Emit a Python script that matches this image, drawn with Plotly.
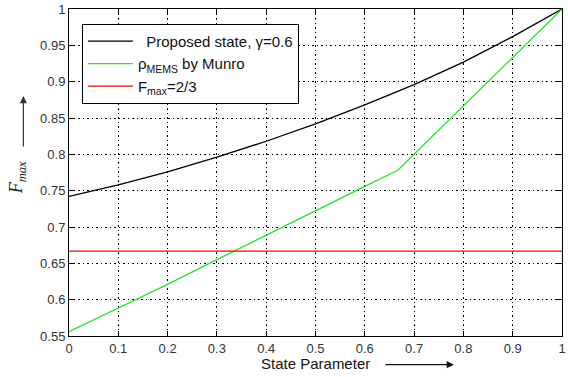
import plotly.graph_objects as go

# State parameter sampled along the x axis
state = [0.0, 0.1, 0.2, 0.3, 0.4, 0.5, 0.6, 0.7, 0.8, 0.9, 1.0]
# Maximal fidelity of the proposed state (gamma = 0.6)
proposed = [0.742, 0.758, 0.776, 0.796, 0.818, 0.842, 0.868, 0.896, 0.927, 0.962, 1.0]

# MEMS fidelity (Munro) - kink at 2/3
munro_x = [0.0, 0.1, 0.2, 0.3, 0.4, 0.5, 0.6, 0.667, 0.7, 0.8, 0.9, 1.0]
munro = [0.556, 0.588, 0.621, 0.655, 0.689, 0.722, 0.756, 0.778, 0.800, 0.867, 0.933, 1.0]

# Classical limit
limit_x = [0.0, 1.0]
limit = [2 / 3, 2 / 3]

x_ticks = [0, 0.1, 0.2, 0.3, 0.4, 0.5, 0.6, 0.7, 0.8, 0.9, 1]
x_labels = ["0", "0.1", "0.2", "0.3", "0.4", "0.5", "0.6", "0.7", "0.8", "0.9", "1"]
y_ticks = [0.55, 0.6, 0.65, 0.7, 0.75, 0.8, 0.85, 0.9, 0.95, 1]
y_labels = ["0.55", "0.6", "0.65", "0.7", "0.75", "0.8", "0.85", "0.9", "0.95", "1"]

W, H = 568, 377
L, R, T, B = 69, 2, 5, 41
pw, ph = W - L - R, H - T - B


def px(x):
    return (x - L) / pw


def py(y):
    return (H - B - y) / ph


fig = go.Figure()
fig.add_trace(go.Scatter(x=state, y=proposed, mode="lines",
                         line=dict(color="#000000", width=1.3),
                         name="\u00a0\u00a0Proposed state, \u03b3=0.6"))
fig.add_trace(go.Scatter(x=munro_x, y=munro, mode="lines",
                         line=dict(color="#22e622", width=1.3),
                         name="\u03c1<sub>MEMS</sub> by Munro"))
fig.add_trace(go.Scatter(x=limit_x, y=limit, mode="lines",
                         line=dict(color="#ff0000", width=1.3),
                         name="F<sub>max</sub>=2/3"))

axis_common = dict(
    showline=True, linecolor="#000000", linewidth=1, mirror="ticks",
    ticks="inside", ticklen=5, tickcolor="#000000",
    showgrid=True, gridcolor="#000000", griddash="1.5px,3px", gridwidth=1,
    zeroline=False, ticklabeloverflow="allow",
    tickfont=dict(family="Liberation Sans", size=13, color="#333333"),
)

fig.update_xaxes(range=[0, 1], tickvals=x_ticks, ticktext=x_labels, **axis_common)
fig.update_yaxes(range=[0.55, 1], tickvals=y_ticks, ticktext=y_labels, **axis_common)

annotations = [
    dict(text="State Parameter", x=px(318), y=py(364), xref="paper", yref="paper",
         showarrow=False, xanchor="center", yanchor="middle",
         font=dict(family="Liberation Sans", size=15, color="#111111")),
    dict(text="", x=px(457), y=py(365), xref="paper", yref="paper",
         showarrow=True, ax=-70, ay=0, arrowhead=2, arrowsize=1.2, arrowwidth=1.2,
         arrowcolor="#111111"),
    dict(text="<i>F</i><sub><i>max</i></sub>", x=px(18), y=py(176), xref="paper", yref="paper",
         showarrow=False, textangle=-90, xanchor="center", yanchor="middle",
         font=dict(family="Liberation Serif", size=18, color="#222222")),
    dict(text="", x=px(23), y=py(93), xref="paper", yref="paper",
         showarrow=True, ax=0, ay=52, arrowhead=2, arrowsize=1.2, arrowwidth=1.2,
         arrowcolor="#333333"),
]

fig.update_layout(
    width=W, height=H,
    margin=dict(l=L, r=R, t=T, b=B),
    paper_bgcolor="#ffffff", plot_bgcolor="#ffffff",
    annotations=annotations,
    showlegend=True,
    legend=dict(x=px(82), y=py(20), xanchor="left", yanchor="top",
                bgcolor="#ffffff", bordercolor="#000000", borderwidth=1,
                font=dict(family="Liberation Sans", size=15, color="#111111"),
                itemwidth=45, tracegroupgap=0),
)

fig.write_html("out.html")
